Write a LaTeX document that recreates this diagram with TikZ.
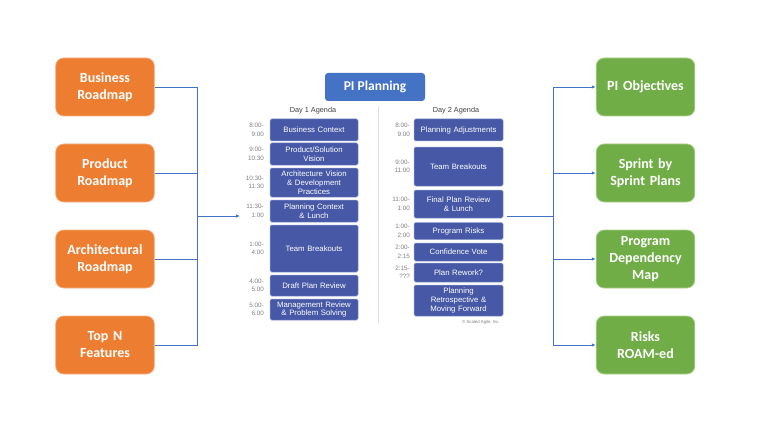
\documentclass[tikz,border=0pt]{standalone}
\usepackage{fontspec}
\setmainfont{Carlito}
\newfontfamily\arialf{Liberation Sans}
\usetikzlibrary{arrows.meta}
\definecolor{orng}{HTML}{ED7D31}
\definecolor{orngb}{HTML}{F4B183}
\definecolor{grn}{HTML}{70AD47}
\definecolor{grnb}{HTML}{A9D18E}
\definecolor{pib}{HTML}{4472C4}
\definecolor{agb}{HTML}{4658A6}
\definecolor{agbd}{HTML}{8D9BCF}
\definecolor{tgray}{HTML}{7F7F7F}
\definecolor{lnb}{HTML}{4472C4}
\tikzset{
  bigbox/.style={rounded corners=8pt, minimum width=95pt, minimum height=58pt,
    text width=92pt, align=center, text=white, font=\bfseries\fontsize{14}{17}\selectfont, line width=0.8pt},
  orangebox/.style={bigbox, fill=orng, draw=orngb},
  greenbox/.style={bigbox, fill=grn, draw=grnb},
  agbox/.style={rounded corners=1.5pt, fill=agb, draw=agbd, line width=0.5pt, text=white,
    align=center, font=\arialf\fontsize{7.8}{8.8}\selectfont, inner sep=0pt},
  tlabel/.style={anchor=east, align=right, text=tgray, font=\arialf\fontsize{6.3}{8.5}\selectfont, inner sep=0pt},
  conn/.style={draw=lnb, line width=0.9pt},
  arr/.style={conn, -{Latex[length=4pt,width=3.5pt]}}
}
\begin{document}
\begin{tikzpicture}[x=1pt,y=-1pt]
\useasboundingbox (0,0) rectangle (768,433);
% left boxes
\node[orangebox] (bus) at (105,87) {Business\\Roadmap};
\node[orangebox] (prod) at (105,173) {Product\\Roadmap};
\node[orangebox] (arch) at (105,259) {Architectural\\Roadmap};
\node[orangebox] (topn) at (105,345) {Top N\\Features};
% right boxes
\node[greenbox] (pio) at (645.5,87) {PI Objectives};
\node[greenbox] (spr) at (645.5,173) {Sprint by\\Sprint Plans};
\node[greenbox] (pdm) at (645.5,259) {Program\\Dependency\\Map};
\node[greenbox] (rsk) at (645.5,345) {Risks\\ROAM-ed};
% PI Planning
\node[rounded corners=3pt, fill=pib, text=white, minimum width=100pt, minimum height=28pt,
  font=\bfseries\fontsize{13.5}{15}\selectfont] (pip) at (375,87) {PI Planning};
% divider
\draw[draw=black!12, line width=0.6pt] (378,106) -- (378,323);
% day labels
\node[font=\arialf\fontsize{7.3}{8}\selectfont, text=black!75] (d1) at (313,111) {Day 1 Agenda};
\node[font=\arialf\fontsize{7.3}{8}\selectfont, text=black!75] (d2) at (456,111) {Day 2 Agenda};
% Day 1 boxes (x 270-358)
\newcommand{\agnode}[6]{\node[agbox, minimum width=#3pt, minimum height=#5pt, text width=#3pt] (#1) at (#2,#4) {#6};}
\agnode{a1}{314}{88}{130}{22}{Business Context}
\agnode{a2}{314}{88}{154}{22}{Product/Solution\\Vision}
\agnode{a3}{314}{88}{182.5}{29}{Architecture Vision\\\& Development\\Practices}
\agnode{a4}{314}{88}{211}{22}{Planning Context\\\& Lunch}
\agnode{a5}{314}{88}{248.5}{47}{Team Breakouts}
\agnode{a6}{314}{88}{285.5}{21}{Draft Plan Review}
\agnode{a7}{314}{88}{309.5}{21}{Management Review\\\& Problem Solving}
% Day 1 times
\node[tlabel] (t1) at (264,130) {8:00-\\9:00};
\node[tlabel] (t2) at (264,154) {9:00-\\10:30};
\node[tlabel] (t3) at (264,182.5) {10:30-\\11:30};
\node[tlabel] (t4) at (264,211) {11:30-\\1:00};
\node[tlabel] (t5) at (264,248.5) {1:00-\\4:00};
\node[tlabel] (t6) at (264,285.5) {4:00-\\5:00};
\node[tlabel] (t7) at (264,309.5) {5:00-\\6:00};
% Day 2 boxes (x 414-503)
\agnode{b1}{458.5}{89}{130}{22}{Planning Adjustments}
\agnode{b2}{458.5}{89}{166.5}{39}{Team Breakouts}
\agnode{b3}{458.5}{89}{204}{28}{Final Plan Review\\\& Lunch}
\agnode{b4}{458.5}{89}{231}{17}{Program Risks}
\agnode{b5}{458.5}{89}{252}{18}{Confidence Vote}
\agnode{b6}{458.5}{89}{272.5}{19}{Plan Rework?}
\agnode{b7}{458.5}{89}{300.5}{31}{Planning\\Retrospective \&\\Moving Forward}
% Day 2 times
\node[tlabel] (s1) at (410,130) {8:00-\\9:00};
\node[tlabel] (s2) at (410,166.5) {9:00-\\11:00};
\node[tlabel] (s3) at (410,204) {11:00-\\1:00};
\node[tlabel] (s4) at (410,231) {1:00-\\2:00};
\node[tlabel] (s5) at (410,252) {2:00-\\2:15};
\node[tlabel] (s6) at (410,272.5) {2:15-\\???};
\node[font=\arialf\fontsize{4.3}{5}\selectfont, text=tgray, anchor=east, inner sep=0pt] (cpy) at (500,322) {© Scaled Agile, Inc.};
% connectors
\coordinate (lj) at (197,216);
\coordinate (lin) at (240,216);
\coordinate (rout) at (507,216);
\coordinate (rj) at (553,216);
\draw[conn] (bus.east) -| (lj);
\draw[conn] (prod.east) -| (lj);
\draw[conn] (arch.east) -| (lj);
\draw[conn] (topn.east) -| (lj);
\draw[arr] (lj) -- (lin);
\draw[conn] (rout) -- (rj);
\draw[arr] (rj) |- (pio.west);
\draw[arr] (rj) |- (spr.west);
\draw[arr] (rj) |- (pdm.west);
\draw[arr] (rj) |- (rsk.west);
\end{tikzpicture}
\end{document}
